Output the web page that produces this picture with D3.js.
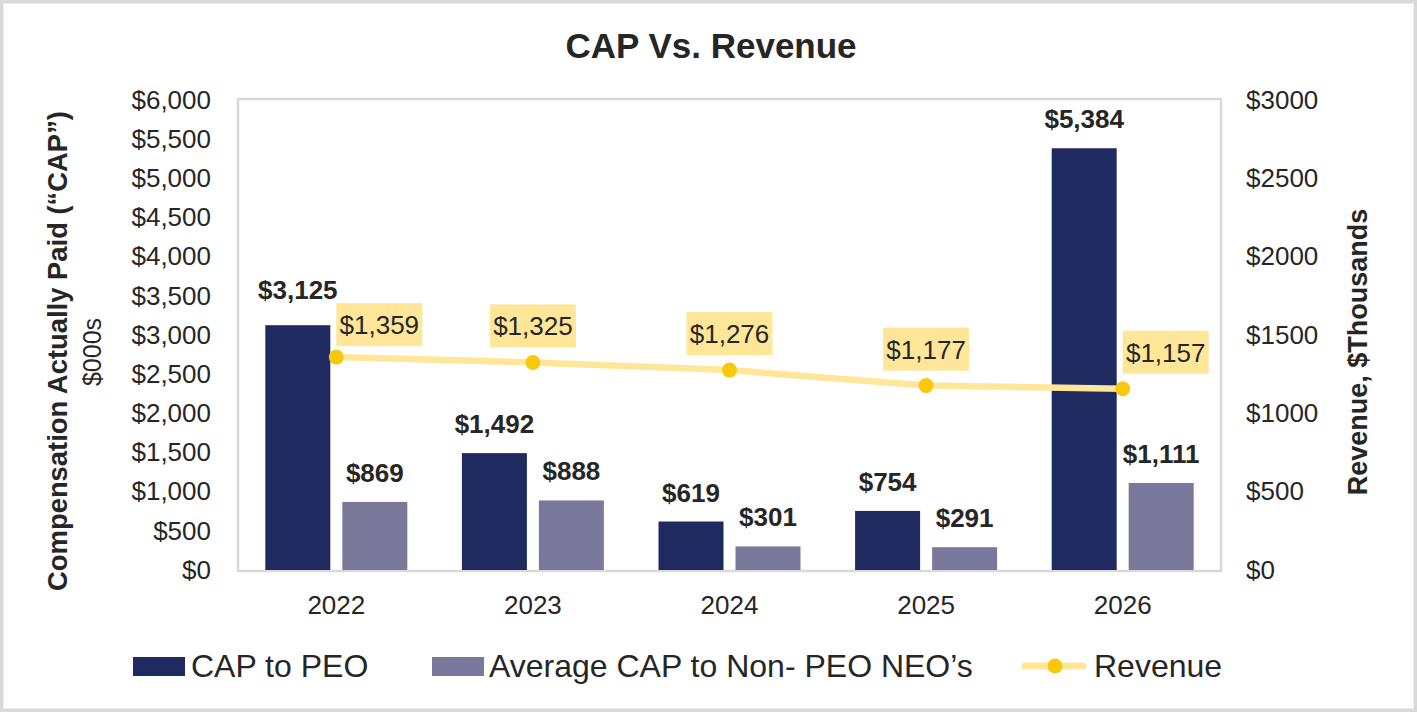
<!DOCTYPE html>
<html>
<head>
<meta charset="utf-8">
<script src="https://cdn.jsdelivr.net/npm/d3@7"></script>
<style>
  body { margin: 0; background: #fff; }
  text { font-family: "Liberation Sans", Arial, sans-serif; fill: #262626; }
</style>
</head>
<body>
<div id="chart"></div>
<script>
//-------------------------------------
// data
//-------------------------------------
var years = ["2022", "2023", "2024", "2025", "2026"];
var capPeo = [3125, 1492, 619, 754, 5384];
var capNonPeo = [869, 888, 301, 291, 1111];
var revenue = [1359, 1325, 1276, 1177, 1157];
var leftTicks = [0, 500, 1000, 1500, 2000, 2500, 3000, 3500, 4000, 4500, 5000, 5500, 6000];
var rightTicks = [0, 500, 1000, 1500, 2000, 2500, 3000];

var width = 1417;
var height = 712;

var plot = { left: 238, right: 1221, top: 99, bottom: 570 };

var colorPeo = "#1f2a60";
var colorNon = "#7a799c";
var colorLine = "#ffe699";
var colorDot = "#f9c80e";

var svg = d3.select("#chart")
	.append("svg")
	.attr("width", width)
	.attr("height", height);

// outer frame
svg.append("rect")
	.attr("x", 1.5).attr("y", 1.5)
	.attr("width", width - 3).attr("height", height - 3)
	.attr("fill", "#fff")
	.attr("stroke", "#d9d9d9")
	.attr("stroke-width", 4);

//-------------------------------------
// scales
//-------------------------------------
var x = d3.scaleBand()
	.domain(years)
	.range([plot.left, plot.right]);

var yLeft = d3.scaleLinear()
	.domain([0, 6000])
	.range([plot.bottom, plot.top + 1]);

var yRight = d3.scaleLinear()
	.domain([0, 3000])
	.range([plot.bottom, plot.top + 1]);

var fmt = d3.format("$,");
var barW = 65;
var barGap = 12;
var groupOff = (x.bandwidth() - (barW * 2 + barGap)) / 2;

// plot frame
svg.append("rect")
	.attr("x", plot.left).attr("y", plot.top)
	.attr("width", plot.right - plot.left)
	.attr("height", plot.bottom - plot.top + 1)
	.attr("fill", "none")
	.attr("stroke", "#d9d9d9")
	.attr("stroke-width", 2.5);

// title
svg.append("text")
	.attr("x", 711).attr("y", 58)
	.attr("text-anchor", "middle")
	.style("font-size", "35px")
	.style("font-weight", "bold")
	.text("CAP Vs. Revenue");

//-------------------------------------
// axes
//-------------------------------------
var leftAxis = d3.axisLeft(yLeft)
	.tickValues(leftTicks)
	.tickFormat(fmt)
	.tickSize(0)
	.tickPadding(0);

svg.append("g")
	.attr("transform", "translate(211,0)")
	.call(leftAxis)
	.call(function(g) { g.select(".domain").remove(); })
	.selectAll("text")
	.style("font-size", "26px")
	.style("font-family", "Liberation Sans, Arial, sans-serif")
	.attr("fill", "#262626");

var rightAxis = d3.axisRight(yRight)
	.tickValues(rightTicks)
	.tickFormat(function(d) { return "$" + d; })
	.tickSize(0)
	.tickPadding(0);

svg.append("g")
	.attr("transform", "translate(1246,0)")
	.call(rightAxis)
	.call(function(g) { g.select(".domain").remove(); })
	.selectAll("text")
	.style("font-size", "26px")
	.style("font-family", "Liberation Sans, Arial, sans-serif")
	.attr("fill", "#262626");

var bottomAxis = d3.axisBottom(x)
	.tickSize(0)
	.tickPadding(0);

svg.append("g")
	.attr("transform", "translate(0,596)")
	.call(bottomAxis)
	.call(function(g) { g.select(".domain").remove(); })
	.selectAll("text")
	.attr("dy", "0.71em")
	.style("font-size", "26px")
	.style("font-family", "Liberation Sans, Arial, sans-serif")
	.attr("fill", "#262626");

// axis titles
svg.append("text")
	.attr("transform", "translate(67,351) rotate(-90)")
	.attr("text-anchor", "middle")
	.style("font-size", "27.4px")
	.style("font-weight", "bold")
	.text("Compensation Actually Paid (\u201cCAP\u201d)");

svg.append("text")
	.attr("transform", "translate(101,352) rotate(-90)")
	.attr("text-anchor", "middle")
	.style("font-size", "25px")
	.text("$000s");

svg.append("text")
	.attr("transform", "translate(1367,352) rotate(-90)")
	.attr("text-anchor", "middle")
	.style("font-size", "27px")
	.style("font-weight", "bold")
	.text("Revenue, $Thousands");

//-------------------------------------
// bars
//-------------------------------------
var bars = svg.append("g");

bars.selectAll(".peo")
	.data(capPeo)
	.enter()
	.append("rect")
	.attr("x", function(d, i) { return x(years[i]) + groupOff; })
	.attr("y", function(d) { return yLeft(d); })
	.attr("width", barW)
	.attr("height", function(d) { return yLeft(0) - yLeft(d); })
	.attr("fill", colorPeo);

bars.selectAll(".non")
	.data(capNonPeo)
	.enter()
	.append("rect")
	.attr("x", function(d, i) { return x(years[i]) + groupOff + barW + barGap; })
	.attr("y", function(d) { return yLeft(d); })
	.attr("width", barW)
	.attr("height", function(d) { return yLeft(0) - yLeft(d); })
	.attr("fill", colorNon);

bars.selectAll(".peoLabel")
	.data(capPeo)
	.enter()
	.append("text")
	.attr("x", function(d, i) { return x(years[i]) + groupOff + barW / 2; })
	.attr("y", function(d, i) { return yLeft(d) - (i === 0 ? 26 : 20); })
	.attr("text-anchor", "middle")
	.style("font-size", "26px")
	.style("font-weight", "bold")
	.text(fmt);

bars.selectAll(".nonLabel")
	.data(capNonPeo)
	.enter()
	.append("text")
	.attr("x", function(d, i) { return x(years[i]) + groupOff + barW * 1.5 + barGap; })
	.attr("y", function(d) { return yLeft(d) - 20; })
	.attr("text-anchor", "middle")
	.style("font-size", "26px")
	.style("font-weight", "bold")
	.text(fmt);

//-------------------------------------
// revenue line
//-------------------------------------
var cx = function(d, i) { return x(years[i]) + x.bandwidth() / 2; };

var line = d3.line()
	.x(cx)
	.y(function(d) { return yRight(d); });

svg.append("path")
	.datum(revenue)
	.attr("d", line)
	.attr("fill", "none")
	.attr("stroke", colorLine)
	.attr("stroke-width", 6.5)
	.attr("stroke-linecap", "round");

svg.selectAll(".dot")
	.data(revenue)
	.enter()
	.append("circle")
	.attr("cx", cx)
	.attr("cy", function(d) { return yRight(d); })
	.attr("r", 7.5)
	.attr("fill", colorDot);

var boxW = 86, boxH = 43;
var labels = svg.selectAll(".revLabel")
	.data(revenue)
	.enter()
	.append("g")
	.attr("transform", function(d, i) {
		var px = cx(d, i);
		var edge = (i === 0 || i === revenue.length - 1);
		var bx = edge ? px : px - boxW / 2;
		var by = yRight(d) - 15 - boxH + (i === 0 ? 4 : 0);
		return "translate(" + bx + "," + by + ")";
	});

labels.append("rect")
	.attr("width", boxW)
	.attr("height", boxH)
	.attr("fill", colorLine);

labels.append("text")
	.attr("x", boxW / 2)
	.attr("y", 31)
	.attr("text-anchor", "middle")
	.style("font-size", "26px")
	.text(fmt);

//-------------------------------------
// legend
//-------------------------------------
var legend = svg.append("g");

legend.append("rect")
	.attr("x", 133).attr("y", 657)
	.attr("width", 52).attr("height", 19)
	.attr("fill", colorPeo);
legend.append("text")
	.attr("x", 191).attr("y", 677)
	.style("font-size", "32px")
	.text("CAP to PEO");

legend.append("rect")
	.attr("x", 432).attr("y", 657)
	.attr("width", 52).attr("height", 19)
	.attr("fill", colorNon);
legend.append("text")
	.attr("x", 489).attr("y", 677)
	.style("font-size", "32px")
	.text("Average CAP to Non- PEO NEO\u2019s");

legend.append("line")
	.attr("x1", 1025).attr("x2", 1083)
	.attr("y1", 666).attr("y2", 666)
	.attr("stroke", colorLine)
	.attr("stroke-width", 7)
	.attr("stroke-linecap", "round");
legend.append("circle")
	.attr("cx", 1055).attr("cy", 666)
	.attr("r", 7.5)
	.attr("fill", colorDot);
legend.append("text")
	.attr("x", 1094).attr("y", 677)
	.style("font-size", "32px")
	.text("Revenue");
</script>
</body>
</html>
